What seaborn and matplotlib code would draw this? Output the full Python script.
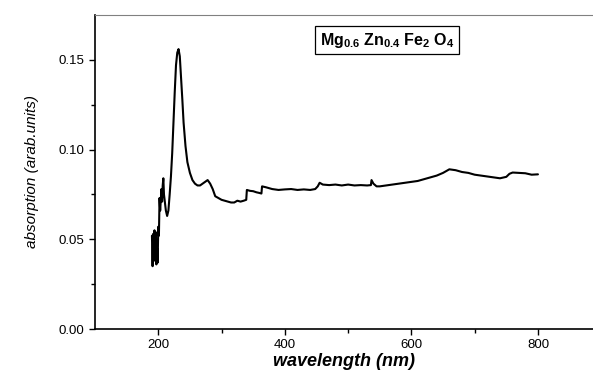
import numpy as np
import pandas as pd
import matplotlib
matplotlib.use('Agg')
import matplotlib.pyplot as plt
import seaborn as sns

# values
wavelength = [190, 191, 192, 193, 194, 195, 196, 197, 198, 199, 200, 201, 202, 203, 204,
              205, 206, 207, 208, 209, 210, 212, 214, 216, 218, 220, 222, 224, 226, 228,
              230, 232, 234, 236, 238, 240, 243, 246, 250, 254, 258, 262, 266, 270, 274,
              278, 282, 286, 290, 295, 300, 305, 310, 315, 320, 325, 330, 335, 339, 340,
              345, 350, 355, 360, 363, 364, 370, 375, 380, 390, 400, 410, 420, 430, 440,
              448, 452, 455, 460, 470, 480, 490, 500, 510, 520, 530, 536, 537, 540, 545,
              550, 560, 570, 580, 590, 600, 610, 620, 630, 640, 650, 660, 670, 680, 690,
              700, 710, 720, 730, 740, 750, 755, 760, 770, 780, 790, 800]
absorption = [0.052, 0.035, 0.053, 0.040, 0.055, 0.038, 0.054, 0.036, 0.045, 0.037, 0.057,
              0.052, 0.073, 0.066, 0.072, 0.078, 0.071, 0.080, 0.084, 0.075, 0.072, 0.066,
              0.063, 0.066, 0.075, 0.085, 0.098, 0.115, 0.132, 0.147, 0.154, 0.156, 0.152,
              0.140, 0.128, 0.115, 0.102, 0.093, 0.087, 0.083, 0.081, 0.080, 0.080, 0.081,
              0.082, 0.083, 0.081, 0.078, 0.074, 0.073, 0.072, 0.0715, 0.071, 0.0705, 0.0705,
              0.0715, 0.071, 0.0715, 0.072, 0.0775, 0.077, 0.0768, 0.0762, 0.0758, 0.0755,
              0.0795, 0.079, 0.0785, 0.078, 0.0775, 0.0778, 0.078, 0.0775, 0.0778, 0.0775,
              0.078, 0.0795, 0.0815, 0.0805, 0.0802, 0.0805, 0.080, 0.0805, 0.080, 0.0802,
              0.080, 0.0802, 0.083, 0.081, 0.0795, 0.0795, 0.080, 0.0805, 0.081, 0.0815,
              0.082, 0.0825, 0.0835, 0.0845, 0.0855, 0.087, 0.089, 0.0885, 0.0875, 0.087,
              0.086, 0.0855, 0.085, 0.0845, 0.084, 0.0848, 0.0865, 0.0872, 0.087, 0.0868,
              0.086, 0.0862]

df = pd.DataFrame({'wavelength': wavelength, 'absorption': absorption})

sns.set_style('ticks')
plt.rcParams['font.family'] = ['Liberation Sans', 'DejaVu Sans']
plt.rcParams['mathtext.fontset'] = 'custom'
plt.rcParams['mathtext.rm'] = 'Liberation Sans'
plt.rcParams['mathtext.bf'] = 'Liberation Sans:bold'
plt.rcParams['text.color'] = 'black'
plt.rcParams['axes.labelcolor'] = 'black'

fig = plt.figure(figsize=(5.93, 3.78), dpi=100)
ax = fig.add_axes([95/593, 1 - 329/378, 1 - 95/593, (329 - 15)/378])
sns.lineplot(data=df, x='wavelength', y='absorption', color='black', lw=1.5, ax=ax)

ax.set_xlim(100, 887)
ax.set_ylim(0, 0.175)
ax.set_xticks([200, 400, 600, 800])
ax.set_xticks([300, 500, 700], minor=True)
ax.set_yticks([0.00, 0.05, 0.10, 0.15])
ax.set_yticks([0.025, 0.075, 0.125], minor=True)
ax.set_yticklabels(['0.00', '0.05', '0.10', '0.15'])
ax.tick_params(which='major', direction='out', length=4, width=1, labelsize=9.5, colors='black')
ax.tick_params(which='minor', direction='out', length=3, width=1, colors='black')

ax.spines['right'].set_visible(False)
ax.spines['top'].set_color('#808080')
for s in ['left', 'bottom']:
    ax.spines[s].set_linewidth(1.2)
    ax.spines[s].set_color('black')

ax.set_xlabel('wavelength (nm)', fontsize=13, fontstyle='italic', fontweight='bold', labelpad=1)
ax.set_ylabel('absorption (arab.units)', fontsize=11, fontstyle='italic', labelpad=14)

ax.text(0.586, 0.92, r'$\mathbf{Mg_{0.6}\;Zn_{0.4}\;Fe_{2}\;O_{4}}$', transform=ax.transAxes,
        ha='center', va='center', fontsize=11.5,
        bbox=dict(boxstyle='square,pad=0.3', fc='white', ec='black', lw=0.9))

fig.savefig('out.png', dpi=100)
